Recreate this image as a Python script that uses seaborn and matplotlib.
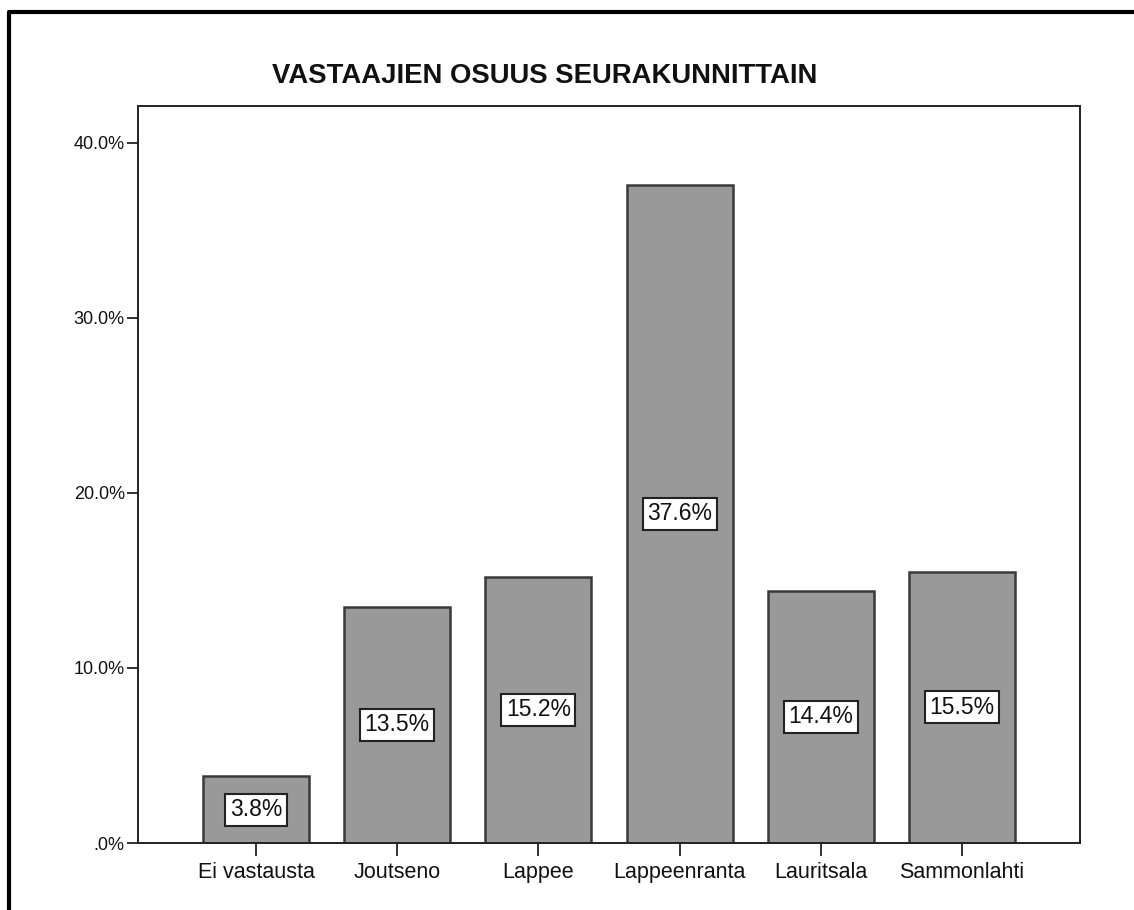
import matplotlib
matplotlib.use("Agg")
import pandas as pd
import seaborn as sns
import matplotlib.pyplot as plt
from matplotlib.lines import Line2D

seurakunnat = ['Ei vastausta', 'Joutseno', 'Lappee', 'Lappeenranta', 'Lauritsala', 'Sammonlahti']
osuus = [3.8, 13.5, 15.2, 37.6, 14.4, 15.5]
yticks = [0, 10, 20, 30, 40]
ytick_labels = ['.0%', '10.0%', '20.0%', '30.0%', '40.0%']

df = pd.DataFrame({'seurakunta': seurakunnat, 'osuus': osuus})

sns.set_style('white')
plt.rcParams['font.family'] = ['Liberation Sans', 'DejaVu Sans']

fig = plt.figure(figsize=(11.34, 9.1), dpi=100)
ax = fig.add_axes([138/1134, 1-843/910, (1080-138)/1134, (843-106)/910])

sns.barplot(data=df, x='seurakunta', y='osuus', color='#999999', edgecolor='#3a3a3a',
            linewidth=1.8, width=0.75, saturation=1, ax=ax)

# value labels in white boxes at bar middle
for i, v in enumerate(osuus):
    ax.text(i, v/2, '%.1f%%' % v, ha='center', va='center', fontsize=16.5, color='#111111',
            bbox=dict(boxstyle='square,pad=0.2', facecolor='white', edgecolor='#222222', linewidth=1.5))

ax.set_xlim(-0.836, 5.836)
ax.set_ylim(0, 42.1)
ax.set_yticks(yticks)
ax.set_yticklabels(ytick_labels)
ax.set_xlabel('')
ax.set_ylabel('')
ax.tick_params(axis='y', length=8, width=1.3, direction='out', labelsize=13, left=True, pad=1.5,
               color='#222222', labelcolor='#111111')
ax.tick_params(axis='x', length=9, width=1.3, direction='out', labelsize=15.5, bottom=True, pad=5,
               color='#222222', labelcolor='#111111')
for s in ax.spines.values():
    s.set_color('#222222')
    s.set_linewidth(1.4)

fig.text(545/1134, 1-76/910, 'VASTAAJIEN OSUUS SEURAKUNNITTAIN', ha='center', va='center',
         fontsize=19.8, fontweight='bold', color='#111111')

# outer frame (cut off at right and bottom)
fig.add_artist(Line2D([9/1134, 9/1134, 1.0], [0.0, 1-12/910, 1-12/910],
                      transform=fig.transFigure, color='black', linewidth=3))

plt.savefig('out.png', dpi=100)
